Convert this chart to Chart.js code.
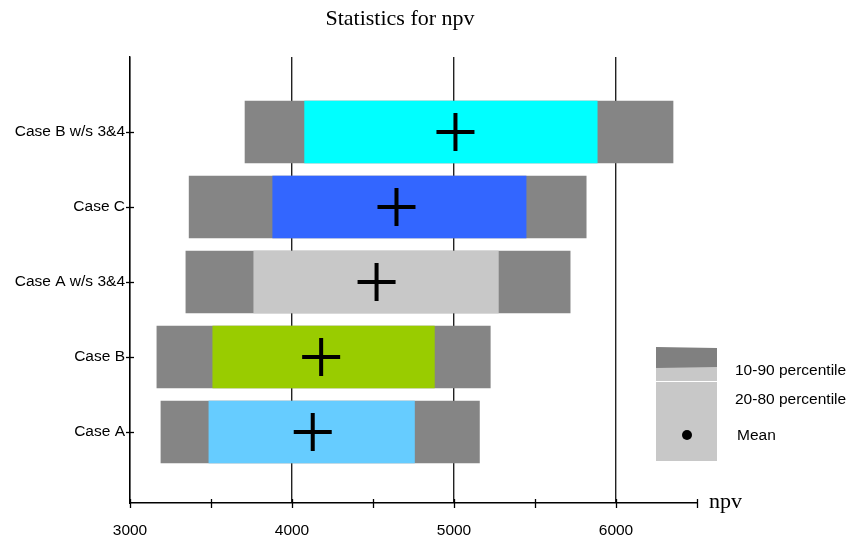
<!DOCTYPE html>
<html lang="en">
<head>
<meta charset="UTF-8">
<title>Statistics for npv</title>
<script src="https://cdn.jsdelivr.net/npm/chart.js@4"></script>
<style>
  body { margin: 0; background: #fff; }
</style>
</head>
<body>
<canvas id="myChart" width="851" height="543"></canvas>
<script>
// categories, top to bottom
var cases = ['Case B w/s 3&4', 'Case C', 'Case A w/s 3&4', 'Case B', 'Case A'];
var p10 = [3710, 3365, 3345, 3166, 3191];
var p90 = [6352, 5816, 5717, 5224, 5157];
var p20 = [4078, 3881, 3764, 3511, 3487];
var p80 = [5884, 5445, 5274, 4879, 4756];
var means = [5009, 4645, 4522, 4180, 4128];
var innerColors = ['#00ffff', '#3366ff', '#c8c8c8', '#99cc00', '#66ccff'];
var xTicks = [3000, 3500, 4000, 4500, 5000, 5500, 6000, 6500];

var outerData = cases.map(function (c, i) { return { x: [p10[i], p90[i]], y: i + 1 }; });
var innerData = cases.map(function (c, i) { return { x: [p20[i], p80[i]], y: i + 1 }; });
var meanData = cases.map(function (c, i) { return { x: means[i], y: i + 1 }; });

// title, crossing tick marks, axis label and legend box
var decor = {
  id: 'decor',
  afterDraw: function (chart) {
    var ctx = chart.ctx, xs = chart.scales.x, ys = chart.scales.y;
    var a = chart.chartArea;
    ctx.save();
    ctx.strokeStyle = '#000';
    ctx.lineWidth = 1.3;
    xTicks.forEach(function (v) {
      var px = Math.round(xs.getPixelForValue(v)) + 0.5;
      ctx.beginPath(); ctx.moveTo(px, a.bottom - 4); ctx.lineTo(px, a.bottom + 5); ctx.stroke();
    });
    for (var i = 1; i <= cases.length; i++) {
      var py = Math.round(ys.getPixelForValue(i)) + 0.5;
      ctx.beginPath(); ctx.moveTo(a.left - 4, py); ctx.lineTo(a.left + 4, py); ctx.stroke();
    }
    ctx.fillStyle = '#000';
    ctx.font = '22px "Liberation Serif", "Times New Roman", serif';
    ctx.textAlign = 'center';
    ctx.textBaseline = 'middle';
    ctx.fillText('Statistics for npv', 400, 19);
    ctx.textAlign = 'left';
    ctx.fillText('npv', 709, 502);

    // legend
    ctx.fillStyle = '#c8c8c8';
    ctx.fillRect(656, 348, 61, 113);
    ctx.fillStyle = '#808080';
    ctx.beginPath();
    ctx.moveTo(656, 347); ctx.lineTo(717, 348); ctx.lineTo(717, 367); ctx.lineTo(656, 368);
    ctx.closePath(); ctx.fill();
    ctx.strokeStyle = '#fff';
    ctx.lineWidth = 1;
    ctx.beginPath(); ctx.moveTo(653, 381.5); ctx.lineTo(851, 381.5); ctx.stroke();
    ctx.fillStyle = '#000';
    ctx.beginPath(); ctx.arc(687, 435, 5, 0, Math.PI * 2); ctx.fill();
    ctx.font = '15.5px "Liberation Sans", Arial, sans-serif';
    ctx.fillText('10-90 percentile', 735, 371);
    ctx.fillText('20-80 percentile', 735, 400);
    ctx.fillText('Mean', 737, 436);
    ctx.restore();
  }
};

var ctx = document.getElementById('myChart').getContext('2d');
var myChart = new Chart(ctx, {
  type: 'bar',
  data: {
    datasets: [
      {
        label: 'Mean',
        type: 'scatter',
        data: meanData,
        pointStyle: 'cross',
        radius: 19,
        borderWidth: 4,
        borderColor: '#000',
        backgroundColor: '#000',
        order: 0
      },
      {
        label: '20-80 percentile',
        data: innerData,
        backgroundColor: innerColors,
        borderWidth: 0,
        barThickness: 62,
        grouped: false,
        order: 1
      },
      {
        label: '10-90 percentile',
        data: outerData,
        backgroundColor: '#858585',
        borderWidth: 0,
        barThickness: 62,
        grouped: false,
        order: 2
      }
    ]
  },
  options: {
    indexAxis: 'y',
    responsive: false,
    animation: false,
    layout: { padding: { top: 57, right: 154, left: 0, bottom: 0 } },
    plugins: {
      legend: { display: false },
      title: { display: false },
      tooltip: { enabled: false }
    },
    scales: {
      x: {
        type: 'linear',
        min: 3000,
        max: 6500,
        offset: false,
        afterFit: function (s) { s.height = 40; },
        afterBuildTicks: function (s) { s.ticks = xTicks.map(function (v) { return { value: v }; }); },
        ticks: {
          autoSkip: false,
          maxRotation: 0,
          padding: 18,
          color: '#000',
          font: { family: '"Liberation Sans", Arial, sans-serif', size: 15.5 },
          callback: function (v) { return v % 1000 === 0 ? String(v) : ''; }
        },
        grid: {
          drawTicks: false,
          color: function (c) { return c.tick && c.tick.value % 1000 === 0 ? '#222' : 'rgba(0,0,0,0)'; },
          lineWidth: 1.4
        },
        border: { display: true, color: '#000', width: 1.4 }
      },
      y: {
        type: 'linear',
        reverse: true,
        offset: false,
        min: 0,
        max: 446 / 75,
        afterFit: function (s) { s.width = 130; },
        afterBuildTicks: function (s) { s.ticks = cases.map(function (c, i) { return { value: i + 1 }; }); },
        ticks: {
          autoSkip: false,
          padding: 5,
          color: '#000',
          font: { family: '"Liberation Sans", Arial, sans-serif', size: 15.5 },
          callback: function (v) { return cases[v - 1] || ''; }
        },
        grid: { display: true, drawOnChartArea: false, drawTicks: false, offset: false },
        border: { display: true, color: '#000', width: 1.4 }
      }
    }
  },
  plugins: [decor]
});
</script>
</body>
</html>
